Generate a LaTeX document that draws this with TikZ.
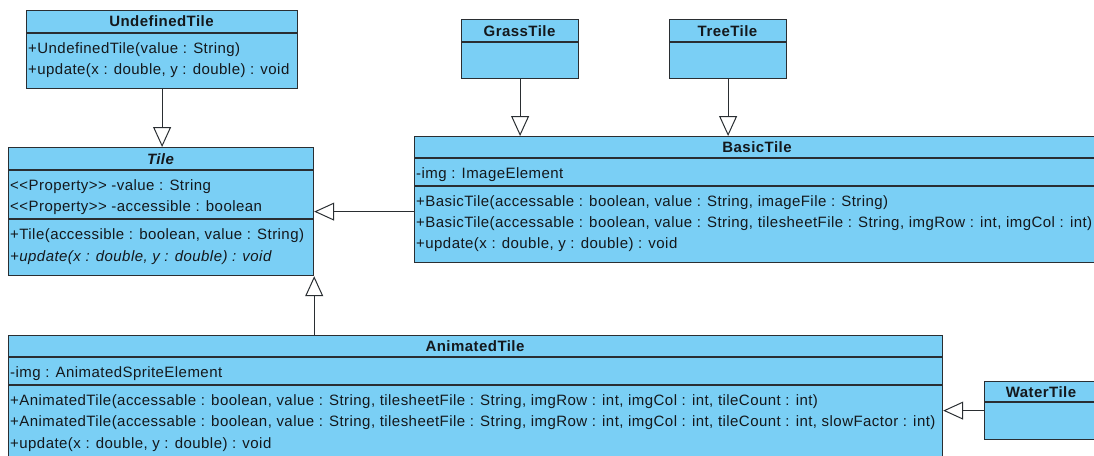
\documentclass[tikz,border=0pt]{standalone}
\usepackage{fontspec}
\setmainfont{Liberation Sans}[LetterSpace=3.0]
\usetikzlibrary{arrows.meta}
\definecolor{classfill}{RGB}{122,207,245}
\definecolor{classline}{RGB}{42,46,50}
\definecolor{classtext}{RGB}{20,24,28}
\begin{document}
\begin{tikzpicture}[x=1pt, y=-1pt,
  classbox/.style={draw=classline, fill=classfill, line width=1.2pt, inner sep=0pt, anchor=north west, rectangle},
  divider/.style={draw=classline, line width=1.2pt},
  title/.style={font=\fontsize{15}{18}\selectfont\bfseries, text=classtext, inner sep=0pt, text height=13pt, text depth=2pt},
  member/.style={font=\fontsize{15}{18}\selectfont, text=classtext, anchor=west, inner sep=0pt, text height=13pt, text depth=2pt},
  inherit/.style={draw=classline, line width=1pt, -{Triangle[open, length=20pt, width=18pt]}}]
\useasboundingbox (0,0) rectangle (1094,455);

% UndefinedTile
\node[classbox, minimum width=271pt, minimum height=78pt] (undef) at (26,10) {};
\node[title] (undefT) at (161.5,21.5) {UndefinedTile};
\draw[divider] (26,33) -- (297,33);
\node[member] (undefM1) at (28,48) {+UndefinedTile(value : String)};
\node[member] (undefM2) at (28,69) {+update(x : double, y : double) : void};

% Tile
\node[classbox, minimum width=305pt, minimum height=128pt] (tile) at (8,147) {};
\node[title, font=\fontsize{15}{18}\selectfont\bfseries\itshape] (tileT) at (160.5,158.5) {Tile};
\draw[divider] (8,170) -- (313,170);
\node[member] (tileA1) at (10,185) {<{}<Property>{}> -value : String};
\node[member] (tileA2) at (10,206) {<{}<Property>{}> -accessible : boolean};
\draw[divider] (8,219) -- (313,219);
\node[member] (tileM1) at (10,234) {+Tile(accessible : boolean, value : String)};
\node[member, font=\fontsize{15}{18}\selectfont\itshape] (tileM2) at (10,256) {+update(x : double, y : double) : void};

% GrassTile
\node[classbox, minimum width=117pt, minimum height=59pt] (grass) at (461,19) {};
\node[title] (grassT) at (519.5,30.5) {GrassTile};
\draw[divider] (461,42) -- (578,42);

% TreeTile
\node[classbox, minimum width=117pt, minimum height=59pt] (tree) at (669,19) {};
\node[title] (treeT) at (727.5,30.5) {TreeTile};
\draw[divider] (669,42) -- (786,42);

% BasicTile
\node[classbox, minimum width=686pt, minimum height=126pt] (basic) at (414,136) {};
\node[title] (basicT) at (757,147) {BasicTile};
\draw[divider] (414,158) -- (1100,158);
\node[member] (basicA1) at (416,173) {-img : ImageElement};
\draw[divider] (414,186) -- (1100,186);
\node[member] (basicM1) at (416,201) {+BasicTile(accessable : boolean, value : String, imageFile : String)};
\node[member] (basicM2) at (416,222) {+BasicTile(accessable : boolean, value : String, tilesheetFile : String, imgRow : int, imgCol : int)};
\node[member] (basicM3) at (416,243) {+update(x : double, y : double) : void};

% AnimatedTile
\node[classbox, minimum width=934pt, minimum height=130pt] (anim) at (8,335) {};
\node[title] (animT) at (475,346) {AnimatedTile};
\draw[divider] (8,357) -- (942,357);
\node[member] (animA1) at (10,372) {-img : AnimatedSpriteElement};
\draw[divider] (8,385) -- (942,385);
\node[member] (animM1) at (10,400) {+AnimatedTile(accessable : boolean, value : String, tilesheetFile : String, imgRow : int, imgCol : int, tileCount : int)};
\node[member] (animM2) at (10,421) {+AnimatedTile(accessable : boolean, value : String, tilesheetFile : String, imgRow : int, imgCol : int, tileCount : int, slowFactor : int)};
\node[member] (animM3) at (10,443) {+update(x : double, y : double) : void};

% WaterTile
\node[classbox, minimum width=114pt, minimum height=58pt] (water) at (984,381) {};
\node[title] (waterT) at (1041,391.5) {WaterTile};
\draw[divider] (984,402) -- (1098,402);

% Generalizations
\draw[inherit] (undef.south) -- (undef.south |- tile.north);
\draw[inherit] (grass.south) -- (grass.south |- basic.north);
\draw[inherit] (tree.south) -- (tree.south |- basic.north);
\draw[inherit] ([yshift=-12pt]basic.west) -- ([yshift=-12pt]basic.west -| tile.east);
\draw[inherit] (anim.north -| tile.south east) -- (tile.south east);
\draw[inherit] (water.west) -- (water.west -| anim.east);
\end{tikzpicture}
\end{document}
